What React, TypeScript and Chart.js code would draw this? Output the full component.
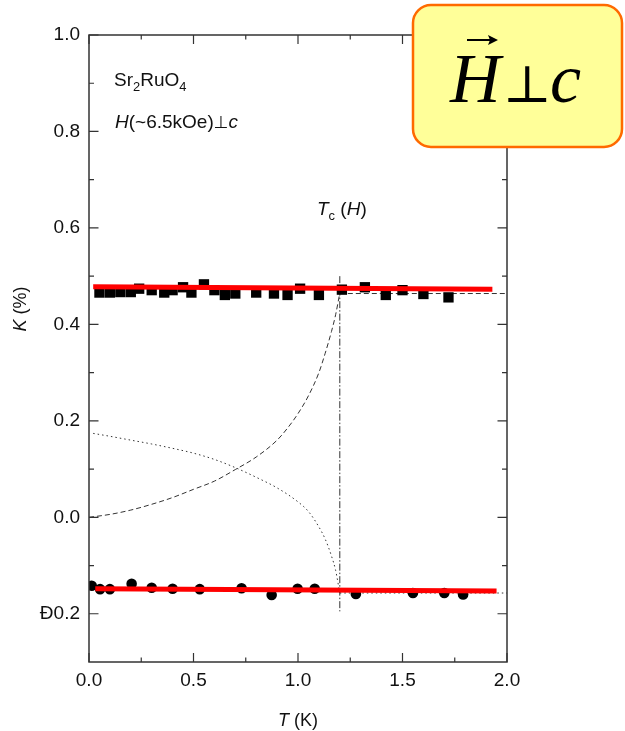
import React, { useEffect, useRef } from 'react';
import { Chart, registerables } from 'chart.js';

Chart.register(...registerables);

// ---- tick definitions ----
const xMajorTicks = [0, 0.5, 1.0, 1.5, 2.0];
const xTickLabels = ['0.0', '0.5', '1.0', '1.5', '2.0'];
const xMinorTicks = [0.25, 0.75, 1.25, 1.75];
const yMajorTicks = [-0.2, 0, 0.2, 0.4, 0.6, 0.8, 1.0];
const yTickLabels = ['Ð0.2', '0.0', '0.2', '0.4', '0.6', '0.8', '1.0'];
const yMinorTicks = [-0.1, 0.1, 0.3, 0.5, 0.7, 0.9];

// ---- data ----
const squareT = [0.05, 0.10, 0.15, 0.20, 0.24, 0.30, 0.36, 0.40, 0.45, 0.49, 0.55, 0.60, 0.65, 0.70, 0.80, 0.885, 0.95, 1.01, 1.10, 1.21, 1.32, 1.42, 1.50, 1.60, 1.72];
const squareK = [0.466, 0.466, 0.467, 0.467, 0.474, 0.471, 0.466, 0.471, 0.477, 0.466, 0.483, 0.471, 0.461, 0.464, 0.466, 0.464, 0.461, 0.474, 0.461, 0.472, 0.477, 0.461, 0.471, 0.463, 0.456];

const circleT = [0.013, 0.053, 0.10, 0.204, 0.30, 0.40, 0.53, 0.73, 0.874, 0.998, 1.08, 1.277, 1.55, 1.70, 1.79];
const circleK = [-0.142, -0.149, -0.149, -0.138, -0.146, -0.148, -0.149, -0.147, -0.161, -0.148, -0.148, -0.159, -0.157, -0.157, -0.160];

const fitTopT = [0.02, 1.93];
const fitTopK = [0.478, 0.473];
const fitBottomT = [0.03, 1.95];
const fitBottomK = [-0.148, -0.153];

const dashedCurveT = [0.0, 0.1, 0.2, 0.3, 0.4, 0.5, 0.6, 0.7, 0.8, 0.9, 0.95, 1.0, 1.05, 1.1, 1.13, 1.16, 1.18, 1.2];
const dashedCurveK = [0.0, 0.006, 0.015, 0.027, 0.041, 0.058, 0.075, 0.099, 0.125, 0.16, 0.185, 0.215, 0.252, 0.3, 0.34, 0.385, 0.42, 0.465];
const dottedCurveT = [0.02, 0.1, 0.2, 0.3, 0.4, 0.5, 0.6, 0.7, 0.8, 0.9, 1.0, 1.05, 1.1, 1.13, 1.16, 1.18, 1.2];
const dottedCurveK = [0.174, 0.168, 0.160, 0.152, 0.143, 0.133, 0.12, 0.103, 0.083, 0.061, 0.032, 0.012, -0.02, -0.045, -0.08, -0.11, -0.157];

const normalTopT = [1.2, 2.0];
const normalTopK = [0.464, 0.464];
const normalBottomT = [1.2, 2.0];
const normalBottomK = [-0.157, -0.157];
const tcLineT = [1.2, 1.2];
const tcLineK = [0.5, -0.195];

const SANS = '"Liberation Sans", Arial, Helvetica, sans-serif';
const SERIF = '"Liberation Serif", "Times New Roman", serif';

const zip = (xs: number[], ys: number[]) => xs.map((x, i) => ({ x, y: ys[i] }));

type Part = { text: string; italic?: boolean; sub?: boolean; family?: string; size?: number };

function richWidth(ctx: CanvasRenderingContext2D, parts: Part[], size: number) {
  let w = 0;
  for (const p of parts) {
    const s = p.size ?? (p.sub ? size * 0.68 : size);
    ctx.font = `${p.italic ? 'italic ' : ''}${s}px ${p.family || SANS}`;
    w += ctx.measureText(p.text).width;
  }
  return w;
}

function drawRich(ctx: CanvasRenderingContext2D, x: number, y: number, parts: Part[], size: number) {
  let cx = x;
  for (const p of parts) {
    const s = p.size ?? (p.sub ? size * 0.68 : size);
    ctx.font = `${p.italic ? 'italic ' : ''}${s}px ${p.family || SANS}`;
    const dy = p.sub ? size * 0.27 : 0;
    ctx.fillText(p.text, cx, y + dy);
    cx += ctx.measureText(p.text).width;
  }
}

const decorPlugin = {
  id: 'decor',
  afterDraw(chart: any) {
    const ctx: CanvasRenderingContext2D = chart.ctx;
    const { left, right, top, bottom } = chart.chartArea;
    const xs = chart.scales.x;
    const ys = chart.scales.y;
    ctx.save();
    // frame
    ctx.strokeStyle = '#333';
    ctx.lineWidth = 1.5;
    ctx.strokeRect(left, top, right - left, bottom - top);
    // ticks
    ctx.lineWidth = 1.2;
    ctx.beginPath();
    const xt = (v: number, len: number) => {
      const px = xs.getPixelForValue(v);
      ctx.moveTo(px, bottom); ctx.lineTo(px, bottom - len);
      ctx.moveTo(px, top); ctx.lineTo(px, top + len);
    };
    xMajorTicks.forEach(v => xt(v, 9));
    xMinorTicks.forEach(v => xt(v, 4.5));
    const yt = (v: number, len: number) => {
      const py = ys.getPixelForValue(v);
      ctx.moveTo(left, py); ctx.lineTo(left + len, py);
      ctx.moveTo(right, py); ctx.lineTo(right - len, py);
    };
    yMajorTicks.forEach(v => yt(v, 9.5));
    yMinorTicks.forEach(v => yt(v, 5));
    ctx.stroke();

    // texts
    ctx.fillStyle = '#111';
    ctx.textBaseline = 'alphabetic';
    ctx.textAlign = 'left';
    drawRich(ctx, 114, 86, [{ text: 'Sr' }, { text: '2', sub: true }, { text: 'RuO' }, { text: '4', sub: true }], 19);
    drawRich(ctx, 115, 128, [{ text: 'H', italic: true }, { text: '(~6.5kOe)' }, { text: '⊥', size: 17, family: '"DejaVu Sans", sans-serif' }, { text: 'c', italic: true }], 19);
    drawRich(ctx, 317, 215, [{ text: 'T', italic: true }, { text: 'c', sub: true }, { text: ' (' }, { text: 'H', italic: true }, { text: ')' }], 19);

    // x title
    const xParts: Part[] = [{ text: 'T', italic: true }, { text: ' (K)' }];
    const xw = richWidth(ctx, xParts, 18);
    drawRich(ctx, (left + right) / 2 - xw / 2, 726, xParts, 18);
    // y title
    const yParts: Part[] = [{ text: 'K', italic: true }, { text: ' (%)' }];
    const yw = richWidth(ctx, yParts, 18);
    ctx.save();
    ctx.translate(26, 309);
    ctx.rotate(-Math.PI / 2);
    drawRich(ctx, -yw / 2, 0, yParts, 18);
    ctx.restore();

    // annotation box
    ctx.beginPath();
    (ctx as any).roundRect(413, 5, 209, 142, 18);
    ctx.fillStyle = '#FFFF99';
    ctx.fill();
    ctx.lineWidth = 2.5;
    ctx.strokeStyle = '#FF6A00';
    ctx.stroke();

    ctx.fillStyle = '#000';
    ctx.font = `italic 70px ${SERIF}`;
    ctx.fillText('H', 450, 102);
    ctx.font = `52px "DejaVu Serif", "DejaVu Sans", serif`;
    ctx.fillText('⊥', 503, 102);
    ctx.font = `italic 70px ${SERIF}`;
    ctx.fillText('c', 550, 102);
    // vector arrow over H
    ctx.strokeStyle = '#000';
    ctx.lineWidth = 2;
    ctx.beginPath();
    ctx.moveTo(467, 40); ctx.lineTo(495, 40);
    ctx.stroke();
    ctx.beginPath();
    ctx.moveTo(498, 40); ctx.lineTo(488, 35); ctx.lineTo(490, 40); ctx.lineTo(488, 45); ctx.closePath();
    ctx.fillStyle = '#000';
    ctx.fill();
    ctx.restore();
  },
};

export default function App() {
  const ref = useRef<HTMLCanvasElement>(null);
  useEffect(() => {
    const lineDs = (label: string, xs: number[], ys: number[], color: string, width: number, dash: number[]) => ({
      label,
      data: zip(xs, ys),
      showLine: true,
      borderColor: color,
      borderWidth: width,
      borderDash: dash,
      pointRadius: 0,
      fill: false,
      tension: 0,
    });
    const chart = new Chart(ref.current!, {
      type: 'scatter',
      data: {
        datasets: [
          lineDs('fitTop', fitTopT, fitTopK, '#FF0000', 5, []),
          lineDs('fitBottom', fitBottomT, fitBottomK, '#FF0000', 5, []),
          {
            label: 'squares',
            data: zip(squareT, squareK),
            pointStyle: 'rect',
            pointRadius: 7.3,
            backgroundColor: '#000',
            borderWidth: 0,
          },
          {
            label: 'circles',
            data: zip(circleT, circleK),
            pointStyle: 'circle',
            pointRadius: 5.3,
            backgroundColor: '#000',
            borderWidth: 0,
          },
          { ...lineDs('dashedCurve', dashedCurveT, dashedCurveK, '#333', 1, [5, 3]), cubicInterpolationMode: 'monotone' },
          { ...lineDs('dottedCurve', dottedCurveT, dottedCurveK, '#333', 1, [1.5, 3]), cubicInterpolationMode: 'monotone' },
          lineDs('normalTop', normalTopT, normalTopK, '#333', 1, [5, 3]),
          lineDs('normalBottom', normalBottomT, normalBottomK, '#333', 1, [1.5, 3]),
          lineDs('tc', tcLineT, tcLineK, '#333', 1, [7, 2, 1.5, 2]),
        ] as any,
      },
      options: {
        animation: false,
        responsive: false,
        maintainAspectRatio: false,
        layout: { padding: { top: 35, right: 118, left: 0, bottom: 0 } },
        plugins: { legend: { display: false }, tooltip: { enabled: false }, title: { display: false } },
        scales: {
          x: {
            type: 'linear',
            min: 0,
            max: 2,
            grid: { display: false, drawTicks: false },
            border: { display: false },
            afterBuildTicks: (s: any) => { s.ticks = xMajorTicks.map(v => ({ value: v })); },
            afterFit: (s: any) => { s.height = 69; },
            ticks: {
              padding: 7,
              color: '#111',
              font: { family: SANS, size: 19 },
              maxRotation: 0,
              callback: (_v: any, i: number) => xTickLabels[i],
            },
          },
          y: {
            type: 'linear',
            min: -0.3,
            max: 1.0,
            grid: { display: false, drawTicks: false },
            border: { display: false },
            afterBuildTicks: (s: any) => { s.ticks = yMajorTicks.map(v => ({ value: v })); },
            afterFit: (s: any) => { s.width = 89; },
            ticks: {
              padding: 9,
              color: '#111',
              font: { family: SANS, size: 19 },
              callback: (_v: any, i: number) => yTickLabels[i],
            },
          },
        },
      } as any,
      plugins: [decorPlugin],
    });
    return () => chart.destroy();
  }, []);
  return (
    <div style={{ position: 'fixed', left: 0, top: 0, width: 625, height: 731, background: '#fff' }}>
      <canvas ref={ref} width={625} height={731} style={{ display: 'block', width: 625, height: 731 }} />
    </div>
  );
}
